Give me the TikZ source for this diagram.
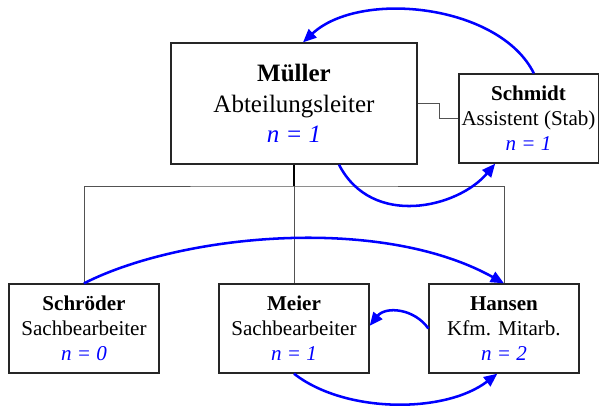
\documentclass[tikz,border=0pt]{standalone}
\usepackage{fontspec}
\setmainfont{Liberation Serif}
\usetikzlibrary{arrows.meta}

% count line under each name
\newcommand{\anz}[1]{\textcolor{blue}{\textit{n = #1}}}

\begin{document}
\begin{tikzpicture}[
  x=0.75pt, y=-0.75pt,
  box/.style={rectangle, draw=black!85, line width=1pt, fill=white,
              minimum width=112.5pt, minimum height=66.75pt, inner sep=2pt,
              font=\fontsize{15.8}{18.75}\selectfont, align=center},
  chef/.style={box, minimum width=184.5pt, minimum height=90.75pt,
               font=\fontsize{18.75}{22.9}\selectfont},
  org/.style={draw=black!68, line width=0.75pt},
  arr/.style={-{Triangle[length=10pt,width=8.5pt]}, draw=blue, line width=1.9pt}
]
  \useasboundingbox (0,0) rectangle (604,405);

  \node[chef] (mueller)   at (294,103.5) {\textbf{Müller}\\Abteilungsleiter\\\anz{1}};
  \node[box, minimum width=104.25pt] (schmidt) at (528.5,118.5)
        {\textbf{Schmidt}\\Assistent (Stab)\\\anz{1}};
  \node[box] (schroeder) at (84,328.5)  {\textbf{Schröder}\\Sachbearbeiter\\\anz{0}};
  \node[box] (meier)     at (294,328.5) {\textbf{Meier}\\Sachbearbeiter\\\anz{1}};
  \node[box] (hansen)    at (504,328.5) {\textbf{Hansen}\\Kfm. Mitarb.\\\anz{2}};

  % line organisation
  \coordinate (bus) at (294,186);
  \draw[line width=1.1pt] (mueller.south) -- (bus);
  \draw[org] (schroeder.north) |- (bus) -| (hansen.north);
  \draw[org] (bus) -- (meier.north);
  \draw[org] (mueller.east) -- ++(22,0) |- (schmidt.west);

  % blue links
  \draw[arr] ([xshift=4pt]schmidt.north) .. controls +(-34,-69) and +(57,-53) .. ([xshift=6.75pt]mueller.north);
  \draw[arr] ([xshift=33.75pt]mueller.south) .. controls +(33,64) and +(-37,44) .. ([xshift=-25pt]schmidt.south);
  \draw[arr] (schroeder.north) .. controls +(96,-49) and +(-124,-69) .. (hansen.north);
  \draw[arr] (hansen.west) .. controls +(-14,-20) and +(16,-20) .. ([yshift=2pt]meier.east);
  \draw[arr] (meier.south) .. controls +(51,40) and +(-52,40) .. ([xshift=-5pt]hansen.south);
\end{tikzpicture}
\end{document}
